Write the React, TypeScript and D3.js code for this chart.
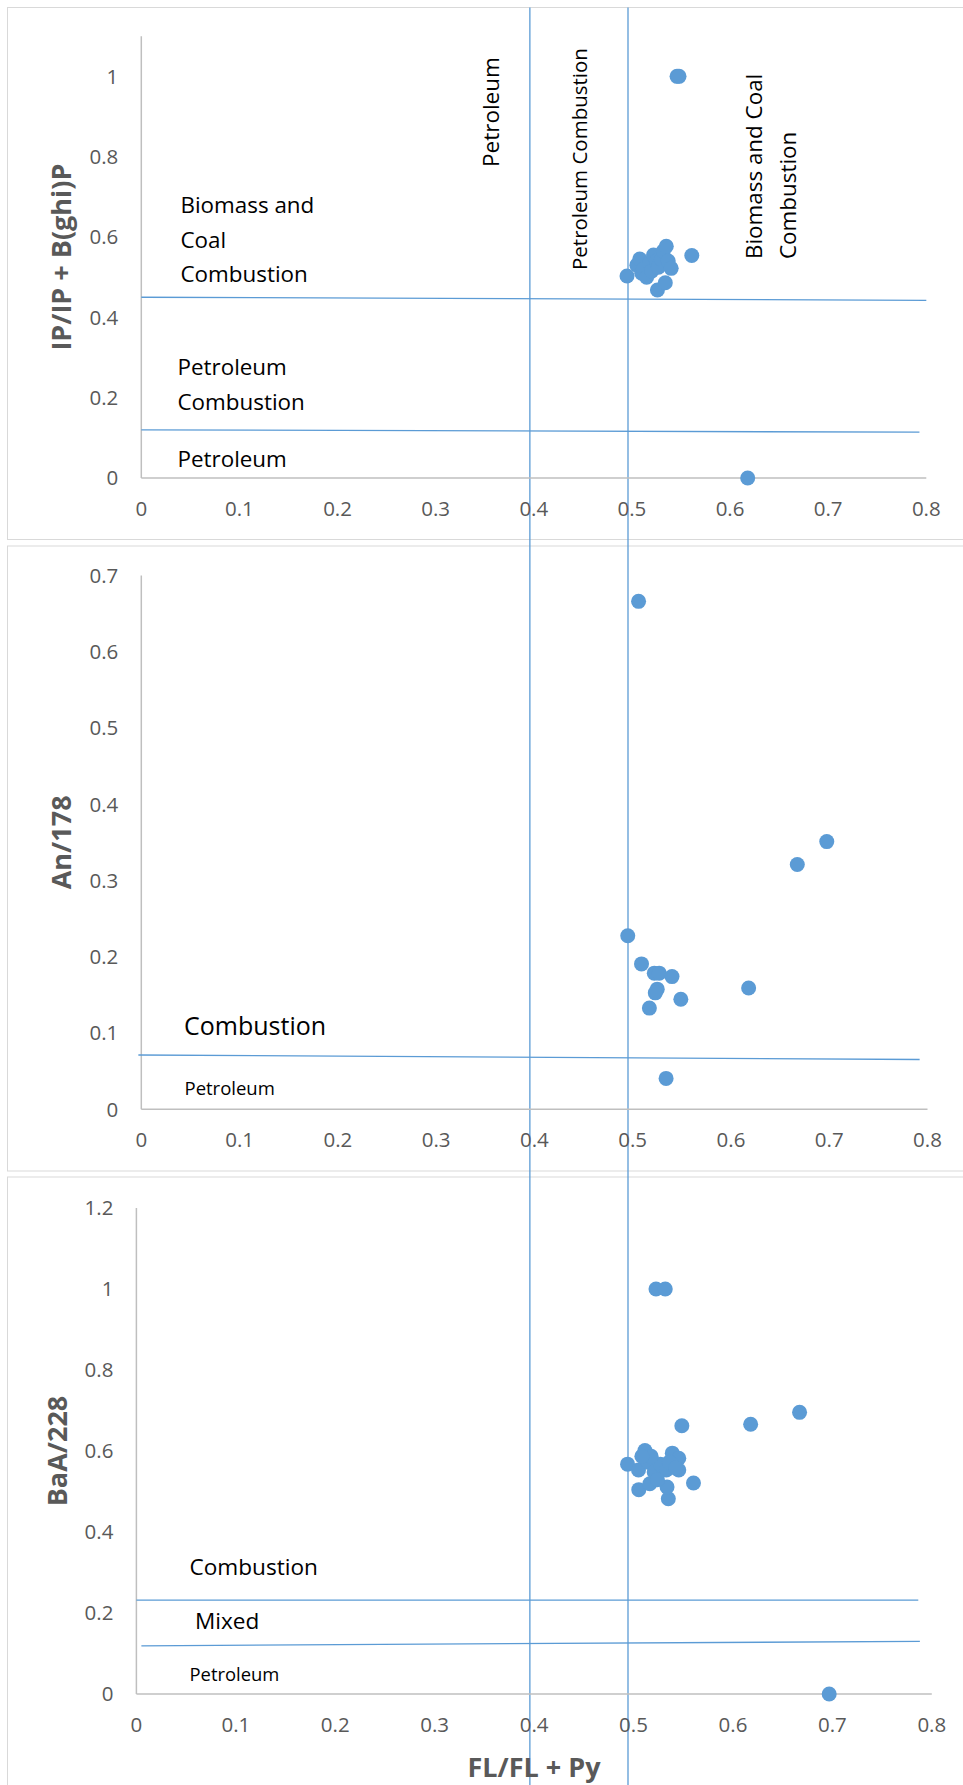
import React from 'react';
import * as d3 from 'd3';

// x axis shared by all three panels: FL/(FL+Py)
const xTicks = [0, 0.1, 0.2, 0.3, 0.4, 0.5, 0.6, 0.7, 0.8];

// panel 1: IP/(IP+B(ghi)P)
const ipTicks = [0, 0.2, 0.4, 0.6, 0.8, 1];
const ipFl = [0.495, 0.505, 0.508, 0.51, 0.512, 0.515, 0.518, 0.52, 0.522, 0.525, 0.527, 0.53, 0.532, 0.535, 0.537, 0.54, 0.526, 0.534, 0.561, 0.546, 0.548, 0.618];
const ipVal = [0.503, 0.53, 0.545, 0.51, 0.52, 0.5, 0.535, 0.515, 0.555, 0.54, 0.525, 0.545, 0.565, 0.577, 0.54, 0.522, 0.468, 0.486, 0.554, 1, 1, 0];
const ipCuts = [
  { x0: 0, y0: 0.45, x1: 0.8, y1: 0.4425 },
  { x0: 0, y0: 0.12, x1: 0.793, y1: 0.114 },
];

// panel 2: An/178
const anTicks = [0, 0.1, 0.2, 0.3, 0.4, 0.5, 0.6, 0.7];
const anFl = [0.506, 0.6675, 0.6975, 0.495, 0.509, 0.522, 0.527, 0.54, 0.525, 0.523, 0.549, 0.517, 0.618, 0.534];
const anVal = [0.666, 0.321, 0.351, 0.2275, 0.1906, 0.1785, 0.1785, 0.174, 0.1575, 0.1527, 0.1443, 0.1327, 0.159, 0.0405];
const anCuts = [{ x0: -0.003, y0: 0.0712, x1: 0.792, y1: 0.0653 }];

// panel 3: BaA/228
const baaTicks = [0, 0.2, 0.4, 0.6, 0.8, 1, 1.2];
const baaFl = [0.5226, 0.5319, 0.667, 0.6178, 0.5486, 0.6968, 0.5603, 0.535, 0.5337, 0.5053, 0.5164, 0.494, 0.5115, 0.539, 0.5455, 0.5455, 0.505, 0.5146, 0.5208, 0.527, 0.533, 0.5177, 0.5084, 0.536, 0.524, 0.5424];
const baaVal = [1, 1, 0.6955, 0.666, 0.6625, 0, 0.521, 0.482, 0.511, 0.5046, 0.519, 0.5675, 0.601, 0.5947, 0.582, 0.553, 0.553, 0.5724, 0.548, 0.567, 0.553, 0.587, 0.587, 0.5724, 0.529, 0.558];
const baaCuts = [
  { x0: 0, y0: 0.2316, x1: 0.7864, y1: 0.2316 },
  { x0: 0.005, y0: 0.119, x1: 0.788, y1: 0.13 },
];

// vertical source boundaries, placed with panel 1's x scale
const flCuts = [0.396, 0.496];

const BLUE = '#5b9bd5';
const GREY = '#595959';
const FONT = "'Open Sans', sans-serif";

const fmt = (v) => String(+v.toFixed(2));

function Panel({ x, y, xs, ys, cuts, yTicks, title, titleX, notes }) {
  const [x0, x1] = xs.range();
  const [yb, yt] = ys.range();
  return (
    <g>
      <line x1={x0} x2={x0} y1={yb} y2={yt} stroke="#bfbfbf" strokeWidth={1.5} />
      <line x1={x0} x2={x1} y1={yb} y2={yb} stroke="#bfbfbf" strokeWidth={1.5} />
      {yTicks.map((t) => (
        <text key={'y' + t} x={x0 - 23} y={ys(t)} dy="0.36em" textAnchor="end"
          fontSize={20.5} fill={GREY} fontFamily={FONT}>{fmt(t)}</text>
      ))}
      {xTicks.map((t) => (
        <text key={'x' + t} x={xs(t)} y={yb + 38} textAnchor="middle"
          fontSize={20.5} fill={GREY} fontFamily={FONT}>{fmt(t)}</text>
      ))}
      {cuts.map((c, i) => (
        <line key={'c' + i} x1={xs(c.x0)} y1={ys(c.y0)} x2={xs(c.x1)} y2={ys(c.y1)}
          stroke={BLUE} strokeWidth={1.3} />
      ))}
      <text transform={`translate(${titleX},${(yb + yt) / 2}) rotate(-90)`} textAnchor="middle"
        fontSize={27} fontWeight="bold" fill={GREY} fontFamily={FONT}>{title}</text>
      {notes.map((n, i) => (
        <text key={'n' + i} x={n.x} y={n.y} fontSize={n.size} fill="#000" fontFamily={FONT}>{n.text}</text>
      ))}
      {x.map((v, i) => (
        <circle key={'p' + i} cx={xs(v)} cy={ys(y[i])} r={7.5} fill={BLUE} />
      ))}
    </g>
  );
}

export default function App() {
  const xs1 = d3.scaleLinear().domain([0, 0.8]).range([141.3, 926.3]);
  const ys1 = d3.scaleLinear().domain([0, 1.1]).range([478, 36.2]);
  const xs2 = d3.scaleLinear().domain([0, 0.8]).range([141.3, 927.5]);
  const ys2 = d3.scaleLinear().domain([0, 0.7]).range([1109.3, 575.4]);
  const xs3 = d3.scaleLinear().domain([0, 0.8]).range([136.4, 931.8]);
  const ys3 = d3.scaleLinear().domain([0, 1.2]).range([1694, 1208]);

  return (
    <svg width={963} height={1785} style={{ position: 'absolute', left: 0, top: 0, background: '#fff' }}>
      <rect x={7.5} y={7.5} width={970} height={532} fill="#fff" stroke="#d9d9d9" />
      <rect x={7.5} y={546} width={970} height={625} fill="#fff" stroke="#d9d9d9" />
      <rect x={7.5} y={1177} width={970} height={640} fill="#fff" stroke="#d9d9d9" />

      {flCuts.map((v) => (
        <line key={v} x1={xs1(v)} x2={xs1(v)} y1={7.5} y2={1785} stroke={BLUE} strokeWidth={1.3} />
      ))}

      <Panel x={ipFl} y={ipVal} xs={xs1} ys={ys1} cuts={ipCuts} yTicks={ipTicks}
        title="IP/IP + B(ghi)P" titleX={71}
        notes={[
          { text: 'Biomass and', x: 180.5, y: 213, size: 22.4 },
          { text: 'Coal', x: 180.5, y: 248, size: 22.4 },
          { text: 'Combustion', x: 180.5, y: 282, size: 22.4 },
          { text: 'Petroleum', x: 177.5, y: 375, size: 22.4 },
          { text: 'Combustion', x: 177.5, y: 410, size: 22.4 },
          { text: 'Petroleum', x: 177.5, y: 467, size: 22.4 },
        ]} />
      <Panel x={anFl} y={anVal} xs={xs2} ys={ys2} cuts={anCuts} yTicks={anTicks}
        title="An/178" titleX={71}
        notes={[
          { text: 'Combustion', x: 184, y: 1035, size: 25 },
          { text: 'Petroleum', x: 184.5, y: 1095, size: 18.5 },
        ]} />
      <Panel x={baaFl} y={baaVal} xs={xs3} ys={ys3} cuts={baaCuts} yTicks={baaTicks}
        title="BaA/228" titleX={67}
        notes={[
          { text: 'Combustion', x: 189.5, y: 1575, size: 22.6 },
          { text: 'Mixed', x: 195, y: 1629, size: 22.6 },
          { text: 'Petroleum', x: 189.5, y: 1681, size: 18.4 },
        ]} />

      <g fontFamily={FONT} fill="#000">
        <text transform="translate(499,167) rotate(-90)" fontSize={22.5}>Petroleum</text>
        <text transform="translate(587,270) rotate(-90)" fontSize={20.5}>Petroleum Combustion</text>
        <text transform="translate(761.5,259) rotate(-90)" fontSize={22.4}>Biomass and Coal</text>
        <text transform="translate(795.5,259) rotate(-90)" fontSize={22.4}>Combustion</text>
      </g>

      <text x={534} y={1777} textAnchor="middle" fontSize={27} fontWeight="bold" fill={GREY}
        fontFamily={FONT}>FL/FL + Py</text>
    </svg>
  );
}
